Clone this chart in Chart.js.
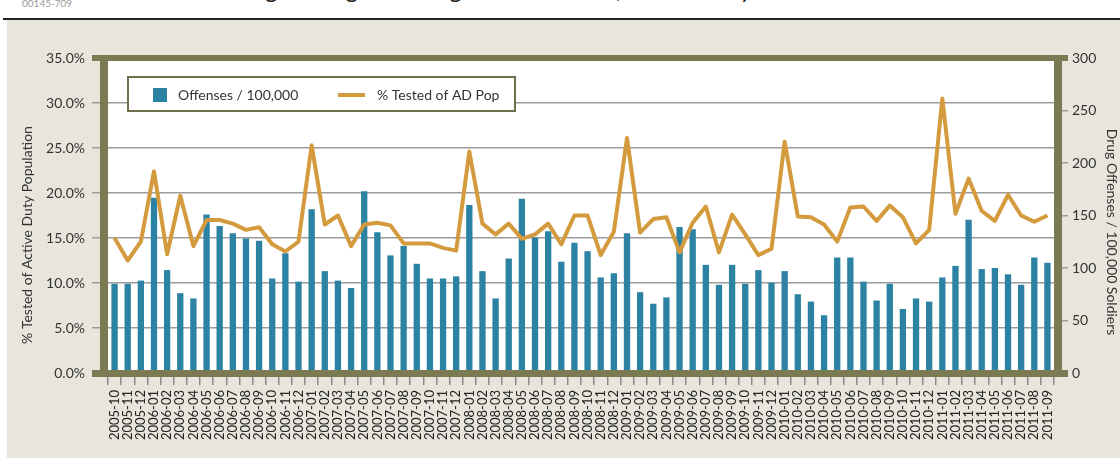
<!DOCTYPE html>
<html>
<head>
<meta charset="utf-8">
<script src="https://cdn.jsdelivr.net/npm/chart.js@4.4.1/dist/chart.umd.min.js"></script>
<style>
  html, body { margin: 0; padding: 0; background: #fff; }
  #wrap { position: relative; width: 1120px; height: 459px; overflow: hidden; background: #fff; font-family: Lato, sans-serif; }
  #panel { position: absolute; left: 7px; top: 20px; width: 1113px; height: 438px; background: #e8e6dc; }
  #rule { position: absolute; left: 3px; top: 18px; width: 1117px; height: 2px; background: #222; }
  #code { position: absolute; left: 22px; top: -2px; font-size: 10px; line-height: 10px; color: #999; }
  #title { position: absolute; left: 225px; top: -23px; font-size: 24px; line-height: 24px; color: #222; white-space: nowrap; }
  canvas { position: absolute; left: 0; top: 0; }
</style>
</head>
<body>
<div id="wrap">
  <div id="panel"></div>
  <div id="code">00145-709</div>
  <div id="title">Drug Testing and Drug Offense Rates, Active Duty Soldiers</div>
  <div id="rule"></div>
  <canvas id="chart" width="1120" height="459"></canvas>
</div>
<script>
// monthly categories
const months = [
  "2005-10", "2005-11", "2005-12",
  "2006-01", "2006-02", "2006-03", "2006-04", "2006-05", "2006-06",
  "2006-07", "2006-08", "2006-09", "2006-10", "2006-11", "2006-12",
  "2007-01", "2007-02", "2007-03", "2007-04", "2007-05", "2007-06",
  "2007-07", "2007-08", "2007-09", "2007-10", "2007-11", "2007-12",
  "2008-01", "2008-02", "2008-03", "2008-04", "2008-05", "2008-06",
  "2008-07", "2008-08", "2008-09", "2008-10", "2008-11", "2008-12",
  "2009-01", "2009-02", "2009-03", "2009-04", "2009-05", "2009-06",
  "2009-07", "2009-08", "2009-09", "2009-10", "2009-11", "2009-12",
  "2010-01", "2010-02", "2010-03", "2010-04", "2010-05", "2010-06",
  "2010-07", "2010-08", "2010-09", "2010-10", "2010-11", "2010-12",
  "2011-01", "2011-02", "2011-03", "2011-04", "2011-05", "2011-06",
  "2011-07", "2011-08", "2011-09",
];

// drug offenses per 100,000 soldiers (right axis)
const offenses = [
  85, 85, 88,
  167, 98, 76, 71, 151, 140, 133, 128, 126, 90, 114, 87,
  156, 97, 88, 81, 173, 134, 112, 121, 104, 90, 90, 92,
  160, 97, 71, 109, 166, 129, 135, 106, 124, 116, 91, 95,
  133, 77, 66, 72, 139, 137, 103, 84, 103, 85, 98, 86,
  97, 75, 68, 55, 110, 110, 87, 69, 85, 61, 71, 68,
  91, 102, 146, 99, 100, 94, 84, 110, 105,
];

// % of active duty population tested (left axis)
const pctTested = [
  15.0, 12.5, 14.6,
  22.4, 13.2, 19.7, 14.1, 17.0, 17.0, 16.6, 15.9, 16.2, 14.3, 13.5, 14.6,
  25.3, 16.5, 17.5, 14.1, 16.5, 16.7, 16.4, 14.4, 14.4, 14.4, 13.9, 13.6,
  24.6, 16.6, 15.4, 16.6, 14.9, 15.4, 16.6, 14.3, 17.5, 17.5, 13.1, 15.7,
  26.1, 15.6, 17.1, 17.3, 13.4, 16.7, 18.5, 13.4, 17.6, 15.4, 13.1, 13.8,
  25.7, 17.4, 17.3, 16.5, 14.6, 18.4, 18.5, 16.9, 18.6, 17.3, 14.4, 15.9,
  30.5, 17.7, 21.6, 18.0, 16.9, 19.8, 17.5, 16.8, 17.5,
];

const pctTicks = [0, 5, 10, 15, 20, 25, 30, 35];
const rateTicks = [0, 50, 100, 150, 200, 250, 300];

const BAR = "#2b82a3";
const LINE = "#d49a3e";
const OLIVE = "#7c7a52";
const GRID = "#9c9c9c";
const TEXT = "#333";
const FONT = "Lato, 'Open Sans', sans-serif";

// white plot area, olive frame, boxed legend and axis titles
const frame = {
  id: "frame",
  beforeDraw(chart) {
    const { ctx, chartArea: a } = chart;
    ctx.save();
    ctx.fillStyle = "#fff";
    ctx.fillRect(a.left, a.top, a.right - a.left, a.bottom - a.top);
    ctx.restore();
  },
  afterDraw(chart) {
    const { ctx, chartArea: a } = chart;
    ctx.save();
    ctx.fillStyle = OLIVE;
    ctx.fillRect(a.left - 8, a.top - 3, 8, a.bottom - a.top + 7);
    ctx.fillRect(a.right, a.top - 3, 8, a.bottom - a.top + 7);
    ctx.fillRect(a.left - 16, a.top - 3, a.right - a.left + 30, 6);
    ctx.fillRect(a.left - 16, a.bottom - 3, a.right - a.left + 30, 7);

    // legend
    const ds = chart.data.datasets;
    ctx.fillStyle = "#fff";
    ctx.fillRect(128, 77, 387, 34);
    ctx.strokeStyle = "#6f6d4b";
    ctx.lineWidth = 2;
    ctx.strokeRect(128, 77, 387, 34);
    ctx.fillStyle = ds[0].backgroundColor;
    ctx.fillRect(153, 88, 14, 14);
    ctx.strokeStyle = ds[1].borderColor;
    ctx.lineWidth = 4;
    ctx.beginPath();
    ctx.moveTo(338, 95);
    ctx.lineTo(365, 95);
    ctx.stroke();
    ctx.fillStyle = TEXT;
    ctx.font = "14px " + FONT;
    ctx.textBaseline = "middle";
    ctx.fillText(ds[0].label, 178, 95);
    ctx.fillText(ds[1].label, 377, 95);

    // axis titles
    ctx.textAlign = "center";
    ctx.translate(27, 235);
    ctx.rotate(-Math.PI / 2);
    ctx.fillText("% Tested of Active Duty Population", 0, 0);
    ctx.rotate(Math.PI / 2);
    ctx.translate(-27, -235);
    ctx.translate(1112, 232);
    ctx.rotate(Math.PI / 2);
    ctx.fillText("Drug Offenses / 100,000 Soldiers", 0, 0);
    ctx.restore();
  },
};

new Chart(document.getElementById("chart"), {
  type: "bar",
  data: {
    labels: months,
    datasets: [
      {
        label: "Offenses / 100,000",
        data: offenses,
        yAxisID: "y1",
        backgroundColor: BAR,
        barPercentage: 0.48,
        categoryPercentage: 1,
        order: 1,
      },
      {
        type: "line",
        label: "% Tested of AD Pop",
        data: pctTested,
        yAxisID: "y",
        borderColor: LINE,
        backgroundColor: LINE,
        borderWidth: 4,
        borderJoinStyle: "round",
        pointRadius: 0,
        tension: 0,
        order: 0,
      },
    ],
  },
  plugins: [frame],
  options: {
    responsive: false,
    animation: false,
    layout: { padding: { top: 58, left: 0, right: 0, bottom: 0 } },
    plugins: {
      legend: { display: false },
      tooltip: { enabled: false },
    },
    scales: {
      x: {
        grid: { offset: true, drawOnChartArea: false, tickLength: 12, color: "#8a8a8a", lineWidth: 1.5 },
        border: { display: false },
        ticks: {
          autoSkip: false,
          minRotation: 90,
          maxRotation: 90,
          padding: 5,
          color: "#222",
          font: { family: FONT, size: 13 },
        },
        afterFit(s) { s.height = 86; },
      },
      y: {
        position: "left",
        min: pctTicks[0],
        max: pctTicks[pctTicks.length - 1],
        ticks: {
          stepSize: pctTicks[1] - pctTicks[0],
          padding: 7,
          color: TEXT,
          font: { family: FONT, size: 14 },
          callback: (v) => v.toFixed(1) + "%",
        },
        grid: { color: GRID, lineWidth: 1.5, tickLength: 16 },
        border: { display: false },
        afterFit(s) { s.width = 108; },
      },
      y1: {
        position: "right",
        min: rateTicks[0],
        max: rateTicks[rateTicks.length - 1],
        ticks: {
          stepSize: rateTicks[1] - rateTicks[0],
          padding: 4,
          color: TEXT,
          font: { family: FONT, size: 14 },
        },
        grid: { drawOnChartArea: false, color: GRID, lineWidth: 1.5, tickLength: 14 },
        border: { display: false },
        afterFit(s) { s.width = 66; },
      },
    },
  },
});
</script>
</body>
</html>
